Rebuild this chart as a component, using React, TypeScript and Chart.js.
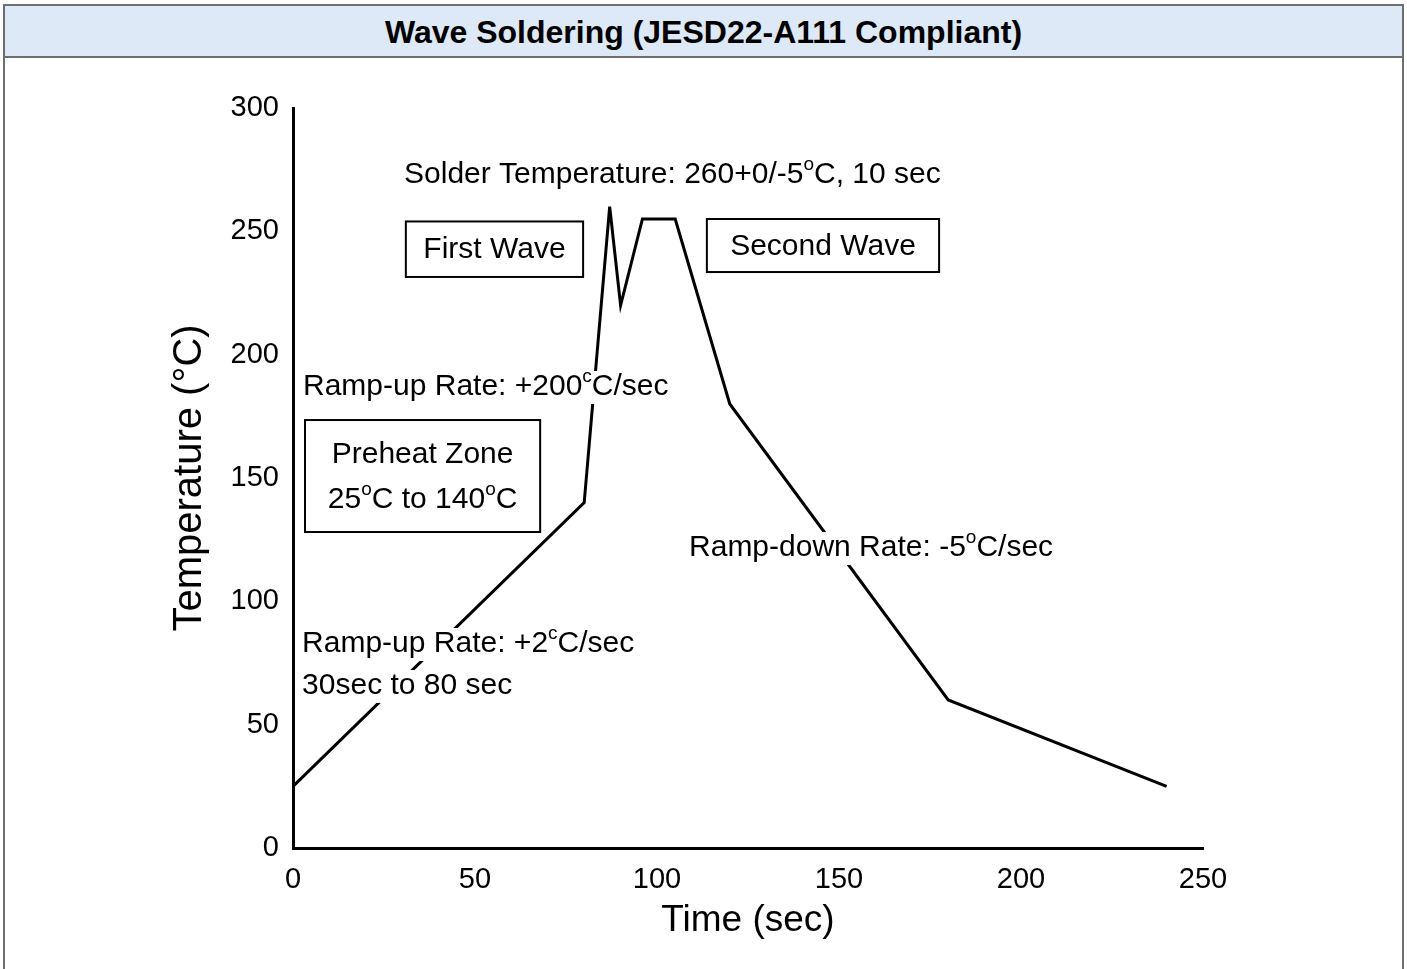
import React, { useEffect, useRef } from "react";
import { Chart, registerables } from "chart.js";

Chart.register(...registerables);

const FONT = "'Liberation Sans', Arial, Helvetica, sans-serif";

const CHART_TITLE = "Wave Soldering (JESD22-A111 Compliant)";
const X_TITLE = "Time (sec)";
const Y_TITLE = "Temperature (°C)";

// profile vertices
const timeSec = [0, 80, 87, 90, 96, 105, 120, 180, 240];
const tempC = [25, 140, 260, 220, 255, 255, 180, 60, 25];

const xTicks = [0, 50, 100, 150, 200, 250];
const yTicks = [0, 50, 100, 150, 200, 250, 300];

type Run = { t: string; sup?: boolean };

// free text annotations (anchor in data units, left aligned, vertical middle)
const textNotes: { x: number; y: number; runs: Run[] }[] = [
  { x: 30.5, y: 272.8, runs: [{ t: "Solder Temperature: 260+0/-5" }, { t: "o", sup: true }, { t: "C, 10 sec" }] },
  { x: 2.75, y: 186.9, runs: [{ t: "Ramp-up Rate: +200" }, { t: "c", sup: true }, { t: "C/sec" }] },
  { x: 108.8, y: 121.6, runs: [{ t: "Ramp-down Rate: -5" }, { t: "o", sup: true }, { t: "C/sec" }] },
  { x: 2.5, y: 82.7, runs: [{ t: "Ramp-up Rate: +2" }, { t: "c", sup: true }, { t: "C/sec" }] },
  { x: 2.5, y: 65.7, runs: [{ t: "30sec to 80 sec" }] },
];

// boxed annotations (data units)
const boxNotes: { x0: number; x1: number; y0: number; y1: number; lines: Run[][] }[] = [
  { x0: 31, x1: 79.7, y0: 231.5, y1: 254.0, lines: [[{ t: "First Wave" }]] },
  { x0: 113.7, x1: 177.5, y0: 233.5, y1: 255.0, lines: [[{ t: "Second Wave" }]] },
  {
    x0: 3.3,
    x1: 67.9,
    y0: 128.1,
    y1: 173.5,
    lines: [
      [{ t: "Preheat Zone" }],
      [{ t: "25" }, { t: "o", sup: true }, { t: "C to 140" }, { t: "o", sup: true }, { t: "C" }],
    ],
  },
];

const NORMAL = `30px ${FONT}`;
const SUP = `19px ${FONT}`;

function runsWidth(ctx: CanvasRenderingContext2D, runs: Run[]) {
  let w = 0;
  for (const r of runs) {
    ctx.font = r.sup ? SUP : NORMAL;
    w += ctx.measureText(r.t).width;
  }
  return w;
}

function drawRuns(
  ctx: CanvasRenderingContext2D,
  runs: Run[],
  x: number,
  y: number,
  align: "left" | "center",
  bg: boolean
) {
  const total = runsWidth(ctx, runs);
  let sx = align === "center" ? x - total / 2 : x;
  if (bg) {
    ctx.fillStyle = "#fff";
    ctx.fillRect(sx - 2, y - 16, total + 4, 33);
  }
  ctx.fillStyle = "#000";
  ctx.textAlign = "left";
  ctx.textBaseline = "middle";
  for (const r of runs) {
    ctx.font = r.sup ? SUP : NORMAL;
    ctx.fillText(r.t, sx, r.sup ? y - 10 : y);
    sx += ctx.measureText(r.t).width;
  }
}

const notesPlugin = {
  id: "notes",
  afterDatasetsDraw(chart: any) {
    const ctx: CanvasRenderingContext2D = chart.ctx;
    const xs = chart.scales.x;
    const ys = chart.scales.y;
    ctx.save();
    for (const n of textNotes) {
      drawRuns(ctx, n.runs, xs.getPixelForValue(n.x), ys.getPixelForValue(n.y), "left", true);
    }
    for (const b of boxNotes) {
      const l = xs.getPixelForValue(b.x0);
      const r = xs.getPixelForValue(b.x1);
      const t = ys.getPixelForValue(b.y1);
      const bt = ys.getPixelForValue(b.y0);
      ctx.fillStyle = "#fff";
      ctx.fillRect(l, t, r - l, bt - t);
      ctx.strokeStyle = "#000";
      ctx.lineWidth = 2;
      ctx.strokeRect(l, t, r - l, bt - t);
      const cx = (l + r) / 2;
      const cy = (t + bt) / 2 + 1;
      const gap = 45;
      const n = b.lines.length;
      b.lines.forEach((line, i) => {
        const ly = cy + (i - (n - 1) / 2) * gap;
        drawRuns(ctx, line, cx, ly, "center", false);
      });
    }
    ctx.restore();
  },
};

export default function App() {
  const ref = useRef<HTMLCanvasElement | null>(null);

  useEffect(() => {
    if (!ref.current) return;
    const chart = new Chart(ref.current, {
      type: "line",
      data: {
        datasets: [
          {
            data: timeSec.map((t, i) => ({ x: t, y: tempC[i] })),
            borderColor: "#000",
            borderWidth: 3,
            pointRadius: 0,
            tension: 0,
            fill: false,
            borderJoinStyle: "miter",
          } as any,
        ],
      },
      options: {
        responsive: false,
        animation: false,
        events: [],
        layout: { padding: { top: 108, right: 204, bottom: 0, left: 0 } },
        plugins: {
          legend: { display: false },
          tooltip: { enabled: false },
          title: { display: false },
        },
        scales: {
          x: {
            type: "linear",
            min: 0,
            max: 250,
            afterFit: (s: any) => {
              s.height = 121;
            },
            afterBuildTicks: (s: any) => {
              s.ticks = xTicks.map((v) => ({ value: v }));
            },
            ticks: {
              font: { size: 29, family: FONT },
              color: "#000",
              padding: 15,
              maxRotation: 0,
              autoSkip: false,
            },
            grid: { display: false, drawTicks: false },
            border: { display: true, color: "#000", width: 3 },
            title: {
              display: true,
              text: X_TITLE,
              color: "#000",
              font: { size: 37, family: FONT },
              padding: { top: 0, bottom: 26 },
            },
          },
          y: {
            type: "linear",
            min: 0,
            max: 300,
            afterFit: (s: any) => {
              s.width = 293;
            },
            afterBuildTicks: (s: any) => {
              s.ticks = yTicks.map((v) => ({ value: v }));
            },
            ticks: {
              font: { size: 29, family: FONT },
              color: "#000",
              padding: 14,
              autoSkip: false,
            },
            grid: { display: false, drawTicks: false },
            border: { display: true, color: "#000", width: 3 },
            title: {
              display: true,
              text: Y_TITLE,
              color: "#000",
              font: { size: 40, family: FONT },
              padding: { top: 166, bottom: 0 },
            },
          },
        },
      } as any,
      plugins: [notesPlugin],
    });
    return () => chart.destroy();
  }, []);

  return (
    <div
      style={{
        position: "absolute",
        left: 0,
        top: 0,
        width: 1407,
        height: 969,
        overflow: "hidden",
        background: "#fff",
      }}
    >
      <div
        style={{
          position: "absolute",
          left: 3,
          top: 4,
          width: 1401,
          height: 990,
          border: "2px solid #6e6e6e",
          boxSizing: "border-box",
        }}
      >
        <div
          style={{
            height: 52,
            paddingTop: 3,
            boxSizing: "border-box",
            background: "#dde9f6",
            borderBottom: "2px solid #6e6e6e",
            display: "flex",
            alignItems: "center",
            justifyContent: "center",
            fontFamily: FONT,
            fontWeight: "bold",
            fontSize: 32,
            color: "#000",
          }}
        >
          {CHART_TITLE}
        </div>
      </div>
      <canvas
        ref={ref}
        width={1407}
        height={969}
        style={{ position: "absolute", left: 0, top: 0, width: 1407, height: 969 }}
      />
    </div>
  );
}
